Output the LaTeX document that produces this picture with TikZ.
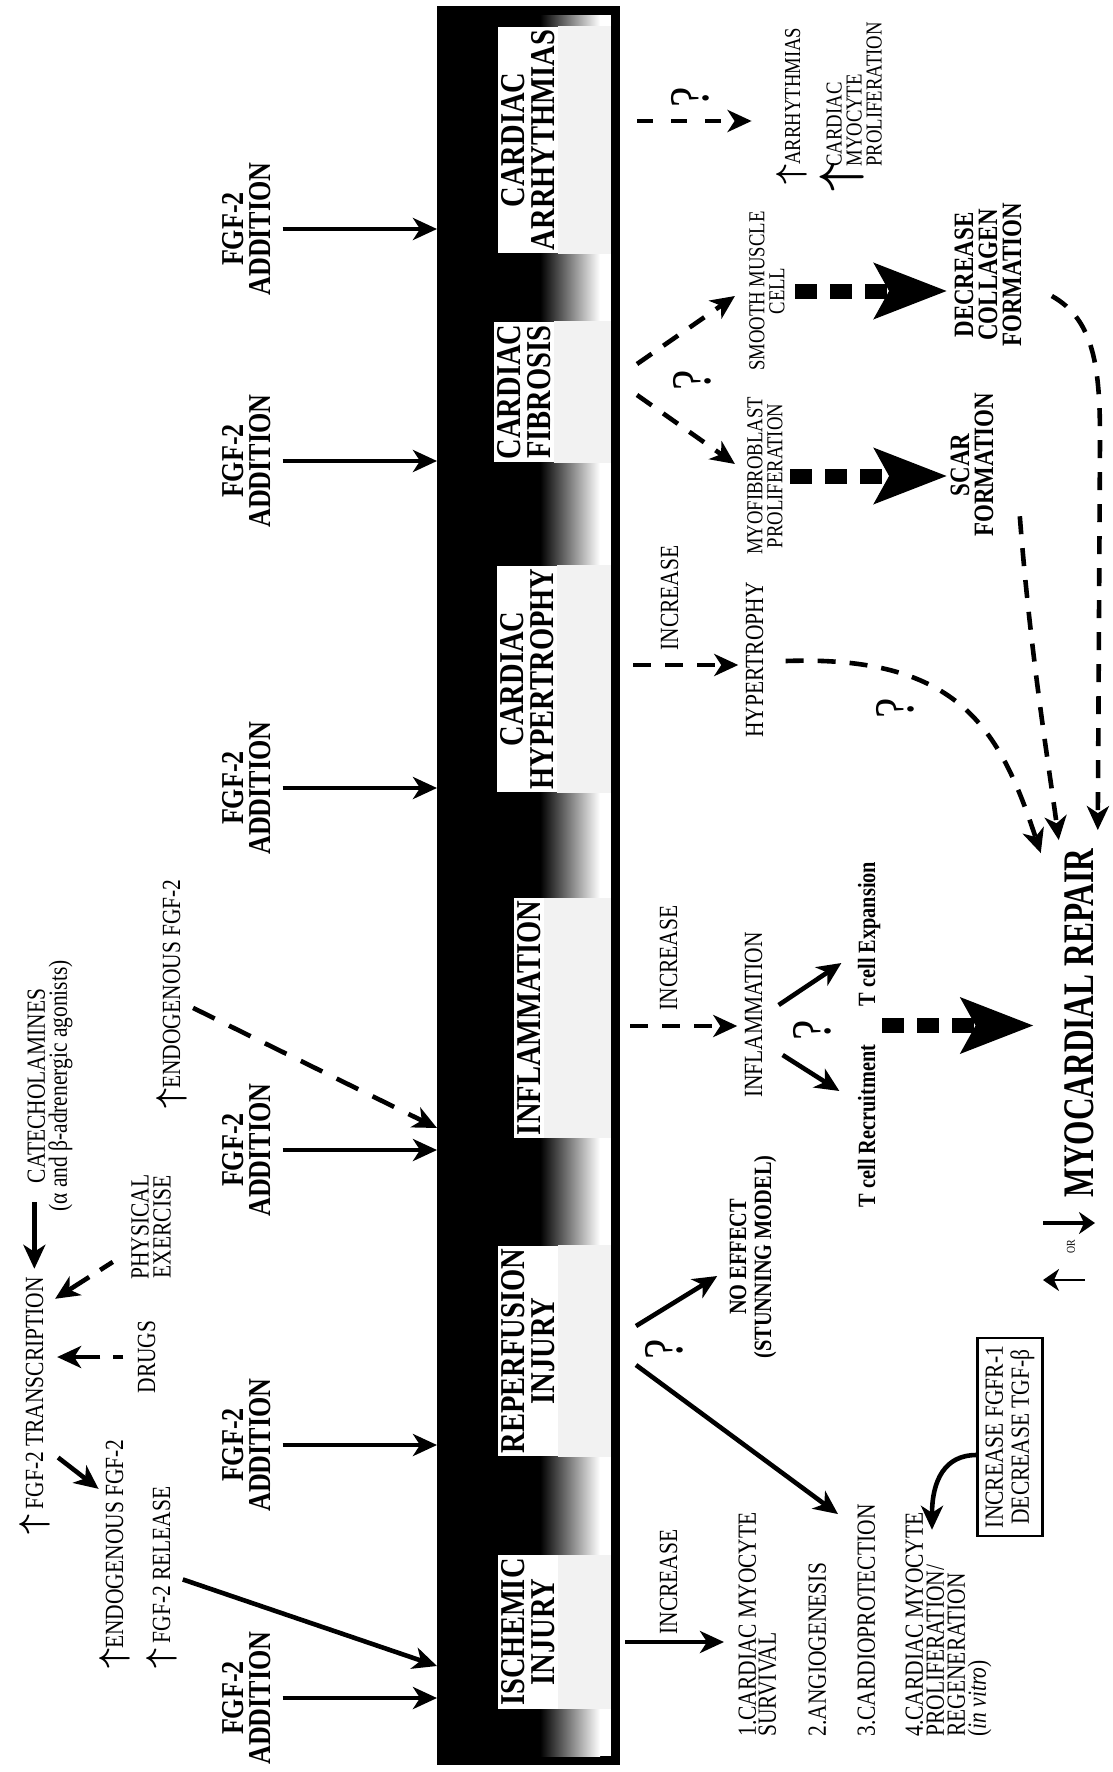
\documentclass[tikz,border=0pt]{standalone}
\usepackage{fontspec}
\usepackage{bm}
\setmainfont{Liberation Serif}[FakeStretch=0.82]
\newfontfamily\repairfont{Liberation Serif}[FakeStretch=0.72]
\usetikzlibrary{arrows.meta,calc}
\newcommand{\upar}{{\fontsize{17}{17}\selectfont$\bm{\uparrow}$}}

\begin{document}
\begin{tikzpicture}[x=0.5pt,y=-0.5pt,
  barlbl/.style={rotate=90,fill=white,inner sep=1.5pt,align=center,
                 font=\bfseries\fontsize{17.4}{15}\selectfont},
  addlbl/.style={rotate=90,inner sep=0pt,align=center,
                 font=\bfseries\fontsize{15.9}{13.5}\selectfont},
  txt/.style={rotate=90,inner sep=0pt,align=center,font=\fontsize{13.1}{11}\selectfont},
  listtxt/.style={txt,align=left,anchor=north west,font=\fontsize{13.1}{10}\selectfont},
  tinytxt/.style={rotate=90,inner sep=0pt,align=center,font=\fontsize{11.4}{10}\selectfont},
  bftxt/.style={rotate=90,inner sep=0pt,align=center,font=\bfseries\fontsize{12.4}{12.5}\selectfont},
  outcome/.style={rotate=90,inner sep=0pt,align=center,font=\bfseries\fontsize{14}{12}\selectfont},
  qmark/.style={rotate=90,inner sep=0pt,font=\fontsize{28}{28}\selectfont},
  arr/.style={line width=2.3pt,-{Stealth[length=12pt,width=11pt,inset=3.5pt]}},
  darr/.style={arr,dash pattern=on 9pt off 7pt},
  fatarr/.style={line width=7.5pt,dash pattern=on 11pt off 6.5pt,
                 -{Stealth[length=36pt,width=27pt,inset=7pt]}},
  tick/.style={line width=1.7pt,-{Stealth[length=8pt,width=11pt,inset=2.5pt]}}
]
\useasboundingbox (0,0) rectangle (1113,1772);

% Disease bar
\coordinate (barNW) at (437,6);
\coordinate (barSE) at (620,1765);
\coordinate (barIn) at (611,15);
\fill[black] (barNW) rectangle (barSE);
\shade[left color=black,right color=white] (540,15) rectangle (600,1756);
\fill[white] (600,15) rectangle (611,1756);

% Stage labels
\node[barlbl] (lArr) at (528,140) {CARDIAC\\ARRHYTHMIAS};
\node[barlbl] (lFib) at (524,392) {CARDIAC\\FIBROSIS};
\node[barlbl] (lHyp) at (527,679) {CARDIAC\\HYPERTROPHY};
\node[barlbl] (lInf) at (529,1018) {INFLAMMATION};
\node[barlbl] (lRep) at (528,1351) {REPERFUSION\\INJURY};
\node[barlbl] (lIsc) at (528,1632) {ISCHEMIC\\INJURY};
\foreach \l in {lArr,lFib,lHyp,lInf,lRep,lIsc}
  \fill[black!5] (\l.south east) rectangle (\l.south west -| barIn);

% FGF-2 addition
\foreach \n/\y in {1/1698,2/1445,3/1150,4/788,5/461,6/229}{
  \node[addlbl] (add\n) at (247,\y) {FGF-2\\ADDITION};
  \draw[arr,shorten <=5.5pt] (add\n.south) -- (add\n -| barNW);
}

% Endogenous FGF-2
\node[txt,anchor=base west] (trans) at (43,1535) {\upar\ FGF-2 TRANSCRIPTION};
\node[txt] (cat) at (50,1086) {CATECHOLAMINES\\(α and β-adrenergic agonists)};
\node[txt] (exer) at (151,1227) {PHYSICAL\\EXERCISE};
\node[txt,anchor=base] (drugs) at (155,1357) {DRUGS};
\node[txt,anchor=base west] (endoA) at (123,1669) {\upar ENDOGENOUS FGF-2};
\node[txt,anchor=base west] (release) at (170,1669) {\upar\ FGF-2 RELEASE};
\node[txt,anchor=base west] (endoB) at (180,1109) {\upar ENDOGENOUS FGF-2};
\coordinate (relIn) at (437,1666);
\coordinate (endoIn) at (437,1128);

\draw[arr,shorten >=4pt] (trans.east |- cat.west) ++(0,-10) -- (trans.east);
\draw[darr,dash pattern=on 7.5pt off 6.5pt on 40pt]
  (exer.north west) ++(-18,-18) -- ($(trans.south east)+(5,22)$);
\draw[darr,dash pattern=on 5pt off 6.5pt on 40pt,shorten <=7pt,shorten >=3.5pt]
  (drugs.north) -- (drugs.north -| trans.south);
\draw[arr] ($(trans.south west)!0.3!(trans.south east)$) ++(8,0)
  -- ($(endoA.north east)+(0,50)$);
\draw[arr,shorten <=3pt] (release.south) -- (relIn);
\draw[darr,dash pattern=on 12pt off 8pt] ($(endoB.south)+(6,14)$) -- (endoIn);

% Ischemic / reperfusion outcomes
\coordinate (iscOut) at (625,1642);
\coordinate (repOutA) at (636,1326);
\coordinate (repOutB) at (636,1365);
\node[txt,anchor=base west] (incI) at (677,1635) {INCREASE};
\node[listtxt] (res1) at (738,1737) {1.CARDIAC MYOCYTE\\SURVIVAL};
\node[listtxt] (res2) at (808,1737) {2.ANGIOGENESIS};
\node[listtxt] (res3) at (857,1737) {3.CARDIOPROTECTION};
\node[listtxt,font=\fontsize{13.1}{10.5}\selectfont] (res4) at (905,1737)
  {4.CARDIAC MYOCYTE\\PROLIFERATION/\\REGENERATION\\({\itshape in vitro})};
\draw[arr,shorten >=7pt] (iscOut) -- (iscOut -| res1.north);

\node[bftxt] (noeff) at (753,1257) {NO EFFECT\\(STUNNING MODEL)};
\node[qmark] (qRep) at (664,1349) {?};
\draw[arr] (repOutA) -- ($(noeff.north)+(-12,19)$);
\draw[arr] (repOutB) -- ($(res3.north east)+(-19,10)$);

\node[txt,draw,line width=1.2pt,inner sep=4pt,font=\fontsize{13.1}{13}\selectfont]
  (fgfr) at (1010,1437) {INCREASE FGFR-1\\DECREASE TGF-β};
\draw[arr] ($(fgfr.north)+(0,18)$) .. controls (945,1455) and (932,1480)
  .. ($(res4.north east)+(27,18)$);

% Myocardial repair
\node[rotate=90,inner sep=0pt,anchor=base west,
      font=\repairfont\bfseries\fontsize{21.8}{22}\selectfont]
  (repair) at (1093,1198) {MYOCARDIAL REPAIR};
\node[rotate=90,inner sep=0pt,font=\fontsize{6}{6}\selectfont] (orlbl)
  at ($(repair.base west)+(-22,49)$) {OR};
\draw[tick] ($(repair.base west)+(-50,25)$) -- ++(52,0);
\draw[tick,line width=1.4pt] ($(repair.base west)+(-8,82)$) -- ++(-42,0);

% Inflammation
\coordinate (infOut) at (630,1026);
\node[txt,anchor=base west] (incInf) at (677,1011) {INCREASE};
\node[txt,anchor=base] (inflam) at (762,1015) {INFLAMMATION};
\draw[darr,shorten >=3.5pt] (infOut) -- (infOut -| inflam.north);
\node[bftxt,anchor=base] (tExp) at (875,934) {T cell Expansion};
\node[bftxt,anchor=base] (tRec) at (875,1126) {T cell Recruitment};
\node[qmark] (qInf) at (812,1030) {?};
\draw[arr] ($(inflam.south)+(16,-10)$) -- ($(tExp.north)+(-16,29)$);
\draw[arr] ($(inflam.south)+(20,40)$) -- ($(tRec.north)+(-18,-35)$);
\coordinate (tcell) at ($(tExp.south west)!.5!(tRec.south east)$);
\draw[fatarr,shorten <=2pt,shorten >=15pt] (tcell) -- (repair.north |- tcell);

% Hypertrophy
\coordinate (hypOut) at (633,665);
\node[txt,anchor=base west] (incHyp) at (678,651) {INCREASE};
\node[txt,anchor=base] (hyp) at (763,660) {HYPERTROPHY};
\draw[darr,shorten >=3.5pt] (hypOut) -- (hypOut -| hyp.north);
\node[qmark] (qHyp) at (895,708) {?};
\draw[darr] ($(hyp.south)+(22,1)$) .. controls (960,655) and (1000,730)
  .. ($(repair.east)+(-38,5)$);

% Fibrosis
\coordinate (fibOutA) at (637,364);
\coordinate (fibOutB) at (637,395);
\node[tinytxt] (smooth) at (767,291) {SMOOTH MUSCLE\\CELL};
\node[tinytxt] (myo) at (765,476) {MYOFIBROBLAST\\PROLIFERATION};
\node[qmark] (qFib) at (692,380) {?};
\draw[darr] (fibOutA) -- ($(smooth.north)+(-14,5)$);
\draw[darr] (fibOutB) -- ($(myo.north)+(-12,-12)$);
\node[outcome] (collagen) at (988,275) {DECREASE\\COLLAGEN\\FORMATION};
\node[outcome] (scar) at (972,465) {SCAR\\FORMATION};
\draw[fatarr,shorten <=5pt,shorten >=3.5pt] (smooth.south) -- (collagen.north |- smooth.south);
\draw[fatarr,shorten <=3.5pt,shorten >=1.5pt] (myo.south) -- (scar.north |- myo.south);
\draw[darr] ($(scar.south west)+(26,-21)$) .. controls (1030,650) and (1048,760)
  .. ($(repair.east)+(-20,-8)$);
\draw[darr] ($(collagen.south)+(30,21)$) .. controls (1095,320) and (1100,370)
  .. (1100,440) -- ($(repair.east)+(19,-18)$);

% Arrhythmias
\coordinate (arrOut) at (637,121);
\node[tinytxt,anchor=base west] (arrh) at (800,185) {\upar ARRHYTHMIAS};
\node[qmark] (qArr) at (690,97) {?};
\draw[darr,dash pattern=on 8pt off 9pt,shorten >=12pt] (arrOut) -- (arrOut -| arrh.north);
\node[rotate=90,inner sep=0pt,font=\fontsize{24}{24}\selectfont] (upCmp) at (842,177) {$\bm{\uparrow}$};
\node[tinytxt,align=left,anchor=north west] (cmp) at (826,167)
  {CARDIAC\\MYOCYTE\\PROLIFERATION};
\end{tikzpicture}
\end{document}
